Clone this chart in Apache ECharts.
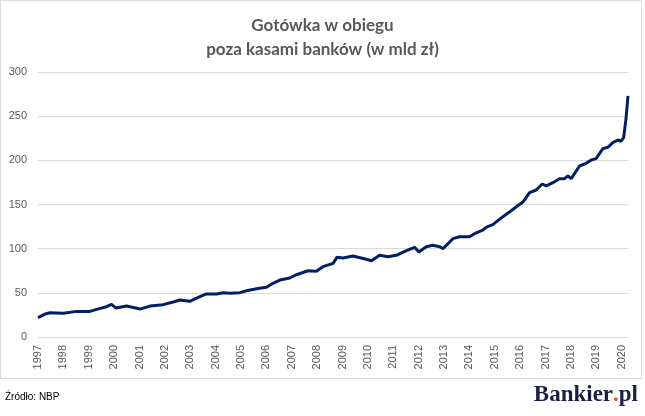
<!DOCTYPE html>
<html>
<head>
<meta charset="utf-8">
<script src="https://cdn.jsdelivr.net/npm/echarts@6/dist/echarts.min.js"></script>
<style>
html,body{margin:0;padding:0;background:#fff;}
#chart{width:645px;height:416px;}
</style>
</head>
<body>
<div id="chart"></div>
<script>
// Decimal years and values (mld zł)
var dates = [1997.0, 1997.04, 1997.28, 1997.47, 1998.0, 1998.52, 1999.05, 1999.31, 1999.70, 1999.90, 2000.07, 2000.49,
  2001.02, 2001.41, 2001.93, 2002.33, 2002.59, 2002.98, 2003.38, 2003.64, 2004.04, 2004.30, 2004.56, 2004.95,
  2005.22, 2005.61, 2006.0, 2006.26, 2006.53, 2006.92, 2007.19, 2007.64, 2007.97, 2008.23, 2008.63, 2008.78,
  2009.02, 2009.41, 2009.94, 2010.14, 2010.46, 2010.79, 2011.12, 2011.52, 2011.84, 2012.01, 2012.30, 2012.56,
  2012.83, 2012.96, 2013.35, 2013.61, 2014.0, 2014.27, 2014.53, 2014.66, 2014.92, 2015.32, 2015.58, 2015.85,
  2016.11, 2016.37, 2016.63, 2016.87, 2017.03, 2017.29, 2017.55, 2017.75, 2017.88, 2018.01, 2018.34, 2018.60,
  2018.80, 2018.99, 2019.26, 2019.46, 2019.65, 2019.85, 2019.98, 2020.08, 2020.17, 2020.25];
var values = [22.0, 22.3, 26.0, 27.5, 26.8, 29.0, 29.0, 31.3, 34.3, 37.0, 32.8, 35.0,
  31.6, 35.0, 36.6, 39.6, 41.9, 40.4, 45.6, 48.7, 48.7, 50.2, 49.5, 50.2,
  52.4, 54.7, 56.3, 60.8, 64.5, 66.8, 70.5, 75.0, 74.4, 79.6, 83.4, 90.2,
  89.4, 91.7, 88.0, 86.4, 92.5, 90.9, 92.5, 97.7, 101.5, 96.2, 102.2, 103.8,
  102.2, 100.0, 111.3, 113.5, 113.5, 118.0, 121.1, 124.2, 127.2, 136.2, 141.5, 147.5,
  152.8, 163.5, 166.4, 173.2, 171.0, 174.7, 179.2, 179.2, 182.3, 179.2, 193.6, 196.6,
  200.4, 201.9, 213.2, 214.8, 220.0, 223.0, 221.6, 226.0, 247.0, 273.0];
var yTicks = [0, 50, 100, 150, 200, 250, 300];
var years = [];
for (var y = 1997; y <= 2020; y++) years.push(y);

var chart = echarts.init(document.getElementById('chart'));
var data = dates.map(function (d, i) { return [d, values[i]]; });

chart.setOption({
  animation: false,
  backgroundColor: '#fff',
  title: {
    text: 'Gotówka w obiegu\npoza kasami banków (w mld zł)',
    left: 'center',
    top: 9,
    textStyle: { fontFamily: 'Lato', fontWeight: 'bold', fontSize: 17, color: '#595959', lineHeight: 24 }
  },
  grid: { left: 38, right: 17, top: 72, bottom: 79 },
  xAxis: {
    type: 'value',
    min: years[0],
    max: 2020.25,
    interval: 1,
    axisLine: { show: true, lineStyle: { color: '#d9d9d9', width: 1 } },
    axisTick: { show: false },
    splitLine: { show: false },
    axisLabel: {
      rotate: 90,
      margin: 8,
      showMaxLabel: false,
      fontFamily: 'Liberation Sans',
      fontSize: 11,
      color: '#595959',
      formatter: function (v) { return years.indexOf(v) >= 0 ? String(v) : ''; }
    }
  },
  yAxis: {
    type: 'value',
    min: yTicks[0],
    max: yTicks[yTicks.length - 1],
    interval: 50,
    axisLine: { show: false },
    axisTick: { show: false },
    splitLine: { lineStyle: { color: '#d9d9d9', width: 1 } },
    axisLabel: { margin: 11, fontFamily: 'Liberation Sans', fontSize: 11, color: '#595959' }
  },
  series: [{
    type: 'line',
    data: data,
    showSymbol: false,
    lineStyle: { color: '#002060', width: 3 },
    z: 3
  }],
  graphic: [
    { type: 'rect', shape: { x: 0.5, y: 0.5, width: 641, height: 378 }, style: { fill: 'none', stroke: '#d9d9d9', lineWidth: 1 }, silent: true },
    { type: 'text', left: 5, top: 392, style: { text: 'Źródło: NBP', fontFamily: 'Liberation Sans', fontSize: 10, fill: '#000' } },
    { type: 'text', right: 7, top: 384, style: {
        text: '{a|Bankier}{b|.}{a|pl}',
        rich: {
          a: { fontFamily: 'Liberation Serif', fontWeight: 'bold', fontSize: 23, fill: '#1b2040' },
          b: { fontFamily: 'Liberation Serif', fontWeight: 'bold', fontSize: 23, fill: '#e8541e' }
        }
      } }
  ]
});
</script>
</body>
</html>
